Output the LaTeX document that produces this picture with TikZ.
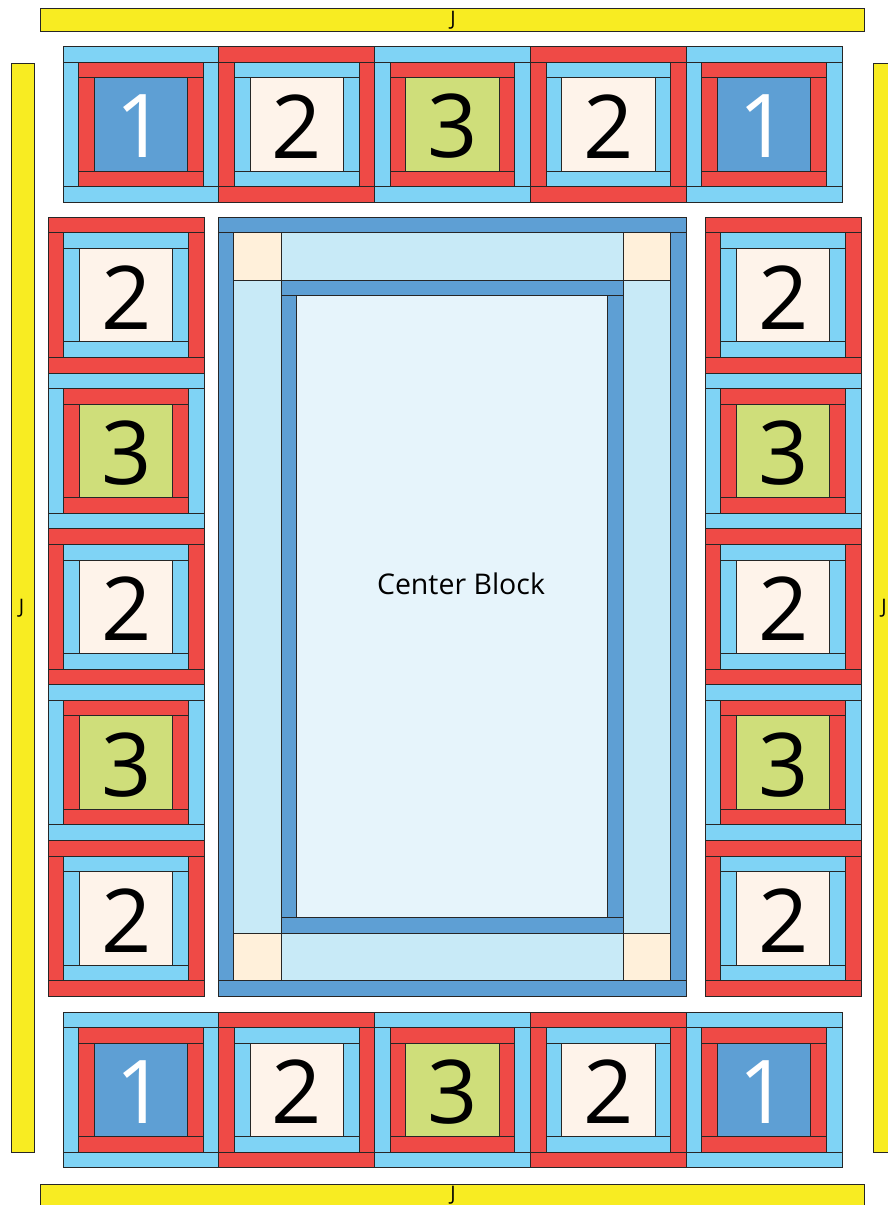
\documentclass[tikz,border=0pt]{standalone}
\usepackage{fontspec}
\newfontfamily\qf{Open Sans}
\definecolor{qblue}{HTML}{7FD3F5}
\definecolor{qred}{HTML}{EF4A46}
\definecolor{qdark}{HTML}{5E9FD4}
\definecolor{qcream}{HTML}{FEF3EA}
\definecolor{qgreen}{HTML}{CFDE7A}
\definecolor{qlight}{HTML}{C8EAF7}
\definecolor{qcorner}{HTML}{FFF0DA}
\definecolor{qcenter}{HTML}{E6F4FB}
\definecolor{qyellow}{HTML}{F8EC22}
\tikzset{
  patch/.style={draw=black!85, line width=0.9pt},
  digit/.style={font=\qf\fontsize{88}{88}\selectfont, inner sep=0pt},
  jlab/.style={font=\qf\fontsize{20}{20}\selectfont, inner sep=0pt},
  border/.style={patch, fill=qyellow}
}
% #1 x, #2 y, #3 outer colour, #4 inner colour, #5 centre colour, #6 label, #7 text colour, #8 node name
\newcommand{\qblk}[8]{%
\begin{scope}[shift={(#1,#2)}]
 \filldraw[patch, fill=#3] (0,0) rectangle (155.8,15.6);
 \filldraw[patch, fill=#3] (0,140.2) rectangle (155.8,155.8);
 \filldraw[patch, fill=#3] (0,15.6) rectangle (15.6,140.2);
 \filldraw[patch, fill=#3] (140.2,15.6) rectangle (155.8,140.2);
 \filldraw[patch, fill=#4] (15.6,15.6) rectangle (140.2,31.2);
 \filldraw[patch, fill=#4] (15.6,124.6) rectangle (140.2,140.2);
 \filldraw[patch, fill=#4] (15.6,31.2) rectangle (31.2,124.6);
 \filldraw[patch, fill=#4] (124.6,31.2) rectangle (140.2,124.6);
 \filldraw[patch, fill=#5] (31.2,31.2) rectangle (124.6,124.6);
 \node[digit, text=#7] (#8) at (77.9,80) {#6};
\end{scope}}
\newcommand{\qone}[3]{\qblk{#1}{#2}{qblue}{qred}{qdark}{1}{white}{#3}}
\newcommand{\qtwo}[3]{\qblk{#1}{#2}{qred}{qblue}{qcream}{2}{black}{#3}}
\newcommand{\qthree}[3]{\qblk{#1}{#2}{qblue}{qred}{qgreen}{3}{black}{#3}}
\begin{document}
\begin{tikzpicture}[x=1pt,y=-1pt]
\useasboundingbox (0,0) rectangle (888,1205);
% yellow borders
\filldraw[border] (40,8) rectangle (864.5,31);
\node[jlab] (jtop) at (453,20) {J};
\filldraw[border] (40,1184) rectangle (864.5,1207);
\node[jlab] (jbot) at (453,1195) {J};
\filldraw[border] (11,63) rectangle (34,1152);
\node[jlab] (jleft) at (21.5,608) {J};
\filldraw[border] (873,63) rectangle (896,1152);
\node[jlab] (jright) at (884,608) {J};
% top row
\qone{63}{46.5}{t1}
\qtwo{218.8}{46.5}{t2}
\qthree{374.6}{46.5}{t3}
\qtwo{530.4}{46.5}{t4}
\qone{686.2}{46.5}{t5}
% bottom row
\qone{63}{1012}{b1}
\qtwo{218.8}{1012}{b2}
\qthree{374.6}{1012}{b3}
\qtwo{530.4}{1012}{b4}
\qone{686.2}{1012}{b5}
% left column
\qtwo{48.3}{217.3}{l1}
\qthree{48.3}{373.1}{l2}
\qtwo{48.3}{528.9}{l3}
\qthree{48.3}{684.7}{l4}
\qtwo{48.3}{840.5}{l5}
% right column
\qtwo{705.3}{217.3}{r1}
\qthree{705.3}{373.1}{r2}
\qtwo{705.3}{528.9}{r3}
\qthree{705.3}{684.7}{r4}
\qtwo{705.3}{840.5}{r5}
% centre block
\filldraw[patch, fill=qdark] (218.3,217.3) rectangle (686,232.9);
\filldraw[patch, fill=qdark] (218.3,980.4) rectangle (686,996);
\filldraw[patch, fill=qdark] (218.3,232.9) rectangle (233.9,980.4);
\filldraw[patch, fill=qdark] (670.4,232.9) rectangle (686,980.4);
\filldraw[patch, fill=qcorner] (233.9,232.9) rectangle (281,280);
\filldraw[patch, fill=qcorner] (623.4,232.9) rectangle (670.4,280);
\filldraw[patch, fill=qcorner] (233.9,933.4) rectangle (281,980.4);
\filldraw[patch, fill=qcorner] (623.4,933.4) rectangle (670.4,980.4);
\filldraw[patch, fill=qlight] (281,232.9) rectangle (623.4,280);
\filldraw[patch, fill=qlight] (281,933.4) rectangle (623.4,980.4);
\filldraw[patch, fill=qlight] (233.9,280) rectangle (281,933.4);
\filldraw[patch, fill=qlight] (623.4,280) rectangle (670.4,933.4);
\filldraw[patch, fill=qdark] (281,280) rectangle (623.4,295.6);
\filldraw[patch, fill=qdark] (281,917.8) rectangle (623.4,933.4);
\filldraw[patch, fill=qdark] (281,295.6) rectangle (296.6,917.8);
\filldraw[patch, fill=qdark] (607.8,295.6) rectangle (623.4,917.8);
\filldraw[patch, fill=qcenter] (296.6,295.6) rectangle (607.8,917.8);
\node[font=\qf\fontsize{28.5}{28.5}\selectfont] (cb) at (461,584) {Center Block};
\end{tikzpicture}
\end{document}
